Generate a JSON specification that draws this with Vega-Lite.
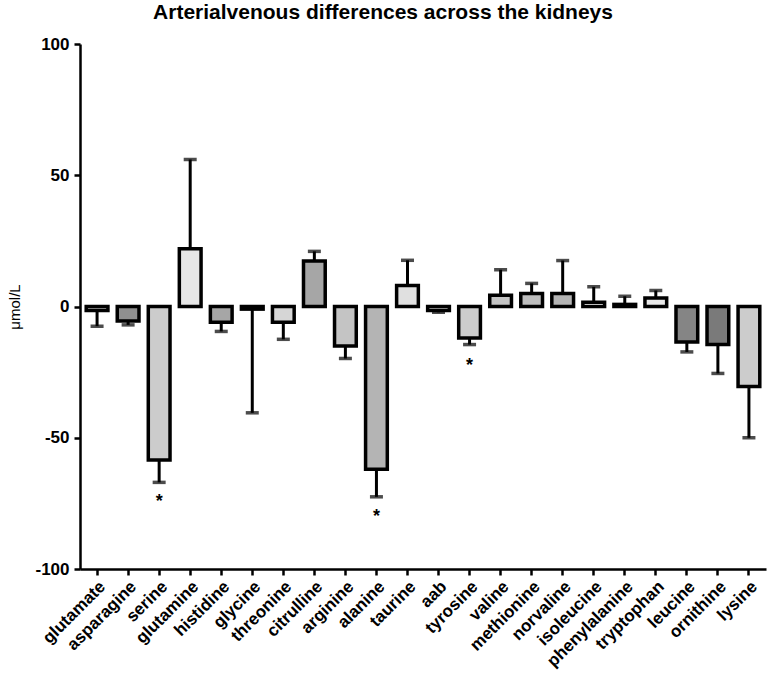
{
  "$schema": "https://vega.github.io/schema/vega-lite/v6.json",
  "autosize": {"type": "none"},
  "padding": {"left": 80, "top": 44, "right": 1, "bottom": 110},
  "width": 686,
  "height": 525,
  "title": {"text": "Arterialvenous differences across the kidneys", "font": "Liberation Sans", "fontSize": 21, "fontWeight": "bold", "color": "#000", "anchor": "middle", "offset": 12, "dx": -40},
  "config": {
    "view": {"stroke": null},
    "axis": {"grid": false, "domainColor": "#000", "tickColor": "#000", "domainWidth": 2.5, "tickWidth": 2.5, "labelColor": "#000", "titleColor": "#000", "labelFont": "Liberation Sans", "titleFont": "Liberation Sans"}
  },
  "data": {"values": [
    {"name": "glutamate", "mean": -1.5, "err": -7.5},
    {"name": "asparagine", "mean": -5.5, "err": -7},
    {"name": "serine", "mean": -58.5, "err": -67, "starY": -73.5},
    {"name": "glutamine", "mean": 22, "err": 56},
    {"name": "histidine", "mean": -6, "err": -9.5},
    {"name": "glycine", "mean": -1, "err": -40.5},
    {"name": "threonine", "mean": -6, "err": -12.5},
    {"name": "citrulline", "mean": 17.3, "err": 21},
    {"name": "arginine", "mean": -15, "err": -19.8},
    {"name": "alanine", "mean": -62, "err": -72.5, "starY": -79},
    {"name": "taurine", "mean": 8, "err": 17.6},
    {"name": "aab", "mean": -1.5, "err": -2.2},
    {"name": "tyrosine", "mean": -12, "err": -14.5, "starY": -21.5},
    {"name": "valine", "mean": 4.3, "err": 14},
    {"name": "methionine", "mean": 5, "err": 8.8},
    {"name": "norvaline", "mean": 5, "err": 17.5},
    {"name": "isoleucine", "mean": 1.6, "err": 7.5},
    {"name": "phenylalanine", "mean": 0.8, "err": 3.9},
    {"name": "tryptophan", "mean": 3.2, "err": 6.1},
    {"name": "leucine", "mean": -13.5, "err": -17.3},
    {"name": "ornithine", "mean": -14.5, "err": -25.5},
    {"name": "lysine", "mean": -30.5, "err": -50}
  ]},
  "encoding": {
    "x": {"field": "name", "type": "nominal", "sort": null,
      "scale": {"paddingInner": 0.3, "paddingOuter": 0.2},
      "axis": {"title": null, "labelAngle": -45, "labelFontSize": 17, "labelFontWeight": "bold", "tickSize": 6, "labelPadding": 3}}
  },
  "layer": [
    {"mark": {"type": "rule", "color": "#000", "strokeWidth": 3},
     "encoding": {"y": {"field": "mean", "type": "quantitative"}, "y2": {"field": "err"}}},
    {"mark": {"type": "tick", "color": "#000", "thickness": 3.5, "size": 13},
     "encoding": {"y": {"field": "err", "type": "quantitative"}}},
    {"mark": {"type": "bar", "stroke": "#000", "strokeWidth": 3.5},
     "encoding": {
       "y": {"field": "mean", "type": "quantitative",
         "scale": {"domain": [-100, 100], "nice": false, "zero": false},
         "axis": {"title": "μmol/L", "titleFontSize": 15, "titleFontWeight": "normal", "titlePadding": 12, "labelFontSize": 17, "labelFontWeight": "bold", "values": [-100, -50, 0, 50, 100], "labelExpr": "replace(datum.label, '\u2212', '-')", "tickSize": 6, "labelPadding": 5}},
       "y2": {"datum": 0},
       "color": {"field": "name", "type": "nominal", "legend": null,
         "scale": {"domain": ["glutamate","asparagine","serine","glutamine","histidine","glycine","threonine","citrulline","arginine","alanine","taurine","aab","tyrosine","valine","methionine","norvaline","isoleucine","phenylalanine","tryptophan","leucine","ornithine","lysine"],
           "range": ["#eeeeee","#8f8f8f","#cccccc","#e6e6e6","#a6a6a6","#888888","#d6d6d6","#a6a6a6","#c4c4c4","#b4b4b4","#e0e0e0","#ffffff","#cccccc","#c4c4c4","#bdbdbd","#b4b4b4","#ffffff","#ffffff","#e8e8e8","#858585","#7a7a7a","#cccccc"]}}
     }},
    {"mark": {"type": "rule", "color": "#000", "strokeWidth": 2.5},
     "encoding": {"y": {"datum": 0}}},
    {"transform": [{"filter": "isValid(datum.starY)"}],
     "mark": {"type": "text", "text": "*", "font": "Liberation Sans", "fontSize": 18, "fontWeight": "bold", "color": "#000", "baseline": "middle", "dy": 3},
     "encoding": {"y": {"field": "starY", "type": "quantitative"}}}
  ]
}
